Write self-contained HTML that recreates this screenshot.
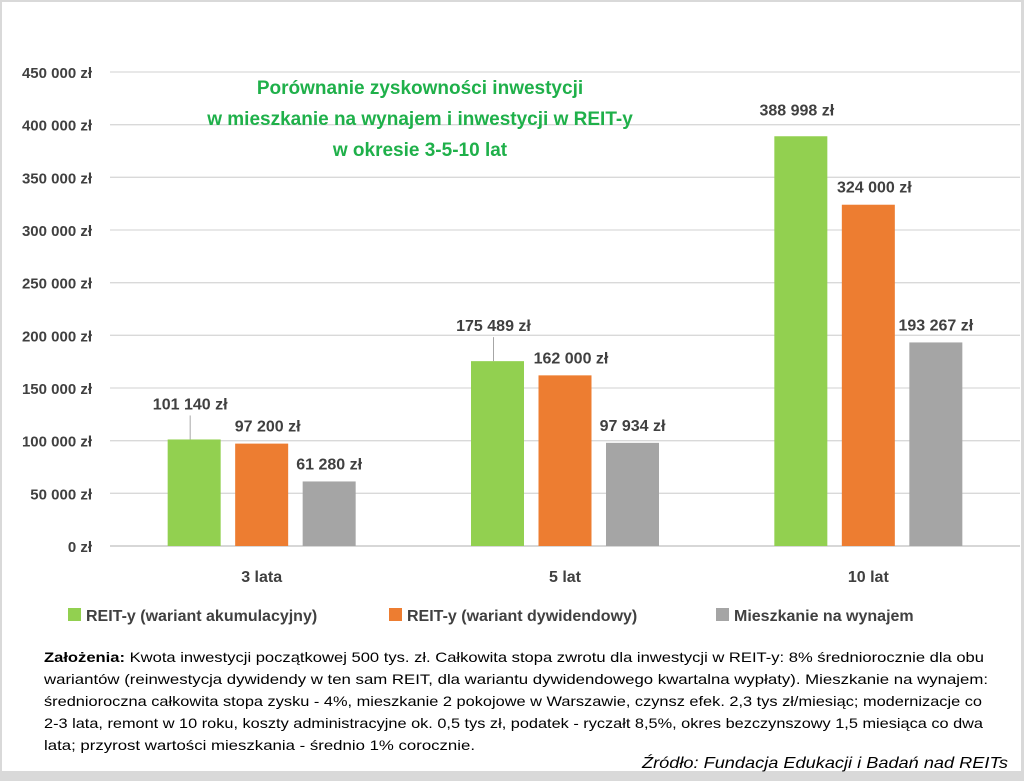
<!DOCTYPE html>
<html><head><meta charset="utf-8"><style>
body{margin:0;background:#fff;}
svg{display:block;font-family:"Liberation Sans",sans-serif;}
</style></head><body>
<svg width="1024" height="781" viewBox="0 0 1024 781" id="chart">
<rect x="0" y="0" width="1024" height="781" fill="#d9d9d9"/>
<rect x="2" y="2" width="1019" height="769" fill="#fff"/>
<g id="grid"></g>
<g id="bars"></g>
<g id="labels"></g>
<text x="420" y="94" text-anchor="middle" fill="#1fb04a" font-weight="bold" font-size="19">Porównanie zyskowności inwestycji</text>
<text x="420" y="125" text-anchor="middle" fill="#1fb04a" font-weight="bold" font-size="19">w mieszkanie na wynajem i inwestycji w REIT-y</text>
<text x="420" y="156" text-anchor="middle" fill="#1fb04a" font-weight="bold" font-size="19">w okresie 3-5-10 lat</text>
<g font-size="16" font-weight="bold" fill="#404040">
<rect x="68" y="608" width="13" height="13" fill="#92d050"/>
<text x="86" y="621">REIT-y (wariant akumulacyjny)</text>
<rect x="389" y="608" width="13" height="13" fill="#ed7d31"/>
<text x="407" y="621">REIT-y (wariant dywidendowy)</text>
<rect x="716" y="608" width="13" height="13" fill="#a5a5a5"/>
<text x="734" y="621">Mieszkanie na wynajem</text>
</g>
<g font-size="14" fill="#000">
<text x="44" y="662" textLength="940" lengthAdjust="spacingAndGlyphs"><tspan font-weight="bold">Założenia:</tspan> Kwota inwestycji początkowej 500 tys. zł. Całkowita stopa zwrotu dla inwestycji w REIT-y: 8% średniorocznie dla obu</text>
<text x="44" y="684" textLength="944" lengthAdjust="spacingAndGlyphs">wariantów (reinwestycja dywidendy w ten sam REIT, dla wariantu dywidendowego kwartalna wypłaty). Mieszkanie na wynajem:</text>
<text x="44" y="706" textLength="938" lengthAdjust="spacingAndGlyphs">średnioroczna całkowita stopa zysku - 4%, mieszkanie 2 pokojowe w Warszawie, czynsz efek. 2,3 tys zł/miesiąc;  modernizacje co</text>
<text x="44" y="728" textLength="939" lengthAdjust="spacingAndGlyphs">2-3 lata, remont w 10 roku, koszty administracyjne ok. 0,5 tys zł, podatek - ryczałt 8,5%, okres bezczynszowy 1,5 miesiąca co dwa</text>
<text x="44" y="750" textLength="431" lengthAdjust="spacingAndGlyphs">lata; przyrost wartości mieszkania - średnio 1% corocznie.</text>
</g>
<text x="1008" y="768" text-anchor="end" font-size="16" font-style="italic" fill="#000" textLength="366" lengthAdjust="spacingAndGlyphs">Źródło: Fundacja Edukacji i Badań nad REITs</text>
</svg>
<script>
const categories = ["3 lata", "5 lat", "10 lat"];
const accumulation = [101140, 175489, 388998];
const dividend = [97200, 162000, 324000];
const apartment = [61280, 97934, 193267];
const valueLabels = [["101 140 zł","175 489 zł","388 998 zł"],["97 200 zł","162 000 zł","324 000 zł"],["61 280 zł","97 934 zł","193 267 zł"]];
const yTicks = [0,50000,100000,150000,200000,250000,300000,350000,400000,450000];
const yTickLabels = ["0 zł","50 000 zł","100 000 zł","150 000 zł","200 000 zł","250 000 zł","300 000 zł","350 000 zł","400 000 zł","450 000 zł"];

const NS="http://www.w3.org/2000/svg";
const x0=110, x1=1020, yBase=546, yTop=72, yMax=450000;
const y = v => yBase - (v/yMax)*(yBase-yTop);
const catW=(x1-x0)/categories.length;
const xc = i => x0 + catW*(i+0.5);
const barW=53, step=67.5;
const series=[accumulation,dividend,apartment];
const colors=["#92d050","#ed7d31","#a5a5a5"];
const names=["accumulation","dividend","apartment"];
const grid=document.getElementById('grid'), bars=document.getElementById('bars'), labels=document.getElementById('labels');
function mk(t,a){const e=document.createElementNS(NS,t);for(const k in a)e.setAttribute(k,a[k]);return e;}
yTicks.forEach((v,i)=>{
  const l=mk('line',{x1:x0,x2:x1,y1:y(v),y2:y(v),stroke:i===0?'#bfbfbf':'#d9d9d9','stroke-width':1.3});
  
  
  grid.appendChild(l);
  const t=mk('text',{x:92,y:y(v)+6,'text-anchor':'end','font-size':15,'font-weight':'bold',fill:'#404040'});
  t.textContent=yTickLabels[i];
  
  
  grid.appendChild(t);
});
categories.forEach((c,i)=>{
  const t=mk('text',{x:xc(i),y:582,'text-anchor':'middle','font-size':16,'font-weight':'bold',fill:'#404040'});
  t.textContent=c;
  
  
  grid.appendChild(t);
  series.forEach((s,j)=>{
    const cx=xc(i)+(j-1)*step;
    const top=y(s[i]);
    const r=mk('rect',{x:cx-barW/2,y:top,width:barW,height:yBase-top,fill:colors[j]});
    
    
    bars.appendChild(r);
    let ly=top-12, lx=cx+(j===0?-4:(j===1?6:0));
    if(j===0){
      if(i<2){ly=top-30;
        const ln=mk('line',{x1:cx-4,x2:cx-4,y1:ly+6,y2:top,stroke:'#a6a6a6','stroke-width':1});
        
        
        labels.appendChild(ln);
      } else ly=top-21;
    }
    const t=mk('text',{x:lx,y:ly,'text-anchor':'middle','font-size':16,'font-weight':'bold',fill:'#404040'});
    t.textContent=valueLabels[j][i];
    
    
    labels.appendChild(t);
  });
});
</script>
</body></html>
